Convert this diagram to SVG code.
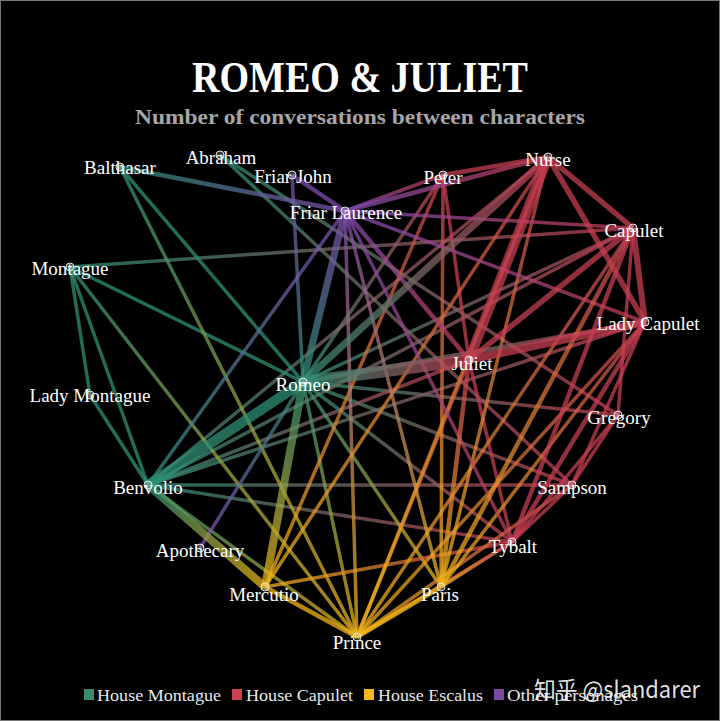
<svg xmlns="http://www.w3.org/2000/svg" width="720" height="721" viewBox="0 0 720 721">
<style>
.e{stroke-opacity:.75;fill:none}
.lbl{font-family:"Liberation Serif","DejaVu Serif",serif;font-size:19px;fill:#fff;text-anchor:middle}
.nd{fill:#fff;fill-opacity:.2;stroke:#e8e8e8;stroke-width:1}
.leg{font-family:"Liberation Serif","DejaVu Serif",serif;font-size:17px;fill:#e8e8e8}
</style>
<defs>
<linearGradient id="MC"><stop offset="0" stop-color="#2f8f74"/><stop offset="1" stop-color="#c43d52"/></linearGradient>
<linearGradient id="ME"><stop offset="0" stop-color="#2f8f74"/><stop offset="1" stop-color="#f0b418"/></linearGradient>
<linearGradient id="MO"><stop offset="0" stop-color="#2f8f74"/><stop offset="1" stop-color="#7e4cb0"/></linearGradient>
<linearGradient id="CE"><stop offset="0" stop-color="#c43d52"/><stop offset="1" stop-color="#f0b418"/></linearGradient>
<linearGradient id="CO"><stop offset="0" stop-color="#c43d52"/><stop offset="1" stop-color="#7e4cb0"/></linearGradient>
<linearGradient id="EO"><stop offset="0" stop-color="#f0b418"/><stop offset="1" stop-color="#7e4cb0"/></linearGradient>
<linearGradient id="e1" href="#MC" gradientUnits="userSpaceOnUse" x1="303" y1="382" x2="469" y2="360"/>
<linearGradient id="e2" href="#MC" gradientUnits="userSpaceOnUse" x1="303" y1="382" x2="548" y2="157"/>
<linearGradient id="e3" href="#MC" gradientUnits="userSpaceOnUse" x1="303" y1="382" x2="645" y2="322"/>
<linearGradient id="e4" href="#MC" gradientUnits="userSpaceOnUse" x1="303" y1="382" x2="633" y2="228"/>
<linearGradient id="e5" href="#MC" gradientUnits="userSpaceOnUse" x1="303" y1="382" x2="512" y2="542"/>
<linearGradient id="e6" href="#MC" gradientUnits="userSpaceOnUse" x1="303" y1="382" x2="443" y2="175"/>
<linearGradient id="e7" href="#MC" gradientUnits="userSpaceOnUse" x1="303" y1="382" x2="572" y2="485"/>
<linearGradient id="e8" href="#MC" gradientUnits="userSpaceOnUse" x1="303" y1="382" x2="618" y2="415"/>
<linearGradient id="e9" href="#MC" gradientUnits="userSpaceOnUse" x1="220" y1="155" x2="572" y2="485"/>
<linearGradient id="e10" href="#MC" gradientUnits="userSpaceOnUse" x1="220" y1="155" x2="618" y2="415"/>
<linearGradient id="e11" href="#MC" gradientUnits="userSpaceOnUse" x1="70" y1="267" x2="633" y2="228"/>
<linearGradient id="e12" href="#MC" gradientUnits="userSpaceOnUse" x1="148" y1="485" x2="512" y2="542"/>
<linearGradient id="e13" href="#MC" gradientUnits="userSpaceOnUse" x1="148" y1="485" x2="572" y2="485"/>
<linearGradient id="e14" href="#MC" gradientUnits="userSpaceOnUse" x1="148" y1="485" x2="633" y2="228"/>
<linearGradient id="e15" href="#MC" gradientUnits="userSpaceOnUse" x1="148" y1="485" x2="645" y2="322"/>
<linearGradient id="e16" href="#MC" gradientUnits="userSpaceOnUse" x1="148" y1="485" x2="548" y2="157"/>
<linearGradient id="e17" href="#MC" gradientUnits="userSpaceOnUse" x1="148" y1="485" x2="469" y2="360"/>
<linearGradient id="e18" href="#ME" gradientUnits="userSpaceOnUse" x1="303" y1="382" x2="265" y2="587"/>
<linearGradient id="e19" href="#ME" gradientUnits="userSpaceOnUse" x1="148" y1="485" x2="265" y2="587"/>
<linearGradient id="e20" href="#ME" gradientUnits="userSpaceOnUse" x1="303" y1="382" x2="441" y2="587"/>
<linearGradient id="e21" href="#ME" gradientUnits="userSpaceOnUse" x1="303" y1="382" x2="357" y2="637"/>
<linearGradient id="e22" href="#ME" gradientUnits="userSpaceOnUse" x1="120" y1="167" x2="357" y2="637"/>
<linearGradient id="e23" href="#ME" gradientUnits="userSpaceOnUse" x1="70" y1="267" x2="357" y2="637"/>
<linearGradient id="e24" href="#ME" gradientUnits="userSpaceOnUse" x1="148" y1="485" x2="357" y2="637"/>
<linearGradient id="e25" href="#MO" gradientUnits="userSpaceOnUse" x1="303" y1="382" x2="345" y2="211"/>
<linearGradient id="e26" href="#MO" gradientUnits="userSpaceOnUse" x1="120" y1="167" x2="345" y2="211"/>
<linearGradient id="e27" href="#MO" gradientUnits="userSpaceOnUse" x1="303" y1="382" x2="200" y2="548"/>
<linearGradient id="e28" href="#MO" gradientUnits="userSpaceOnUse" x1="303" y1="382" x2="292" y2="175"/>
<linearGradient id="e29" href="#MO" gradientUnits="userSpaceOnUse" x1="148" y1="485" x2="345" y2="211"/>
<linearGradient id="e30" href="#CE" gradientUnits="userSpaceOnUse" x1="512" y1="542" x2="265" y2="587"/>
<linearGradient id="e31" href="#CE" gradientUnits="userSpaceOnUse" x1="548" y1="157" x2="265" y2="587"/>
<linearGradient id="e32" href="#CE" gradientUnits="userSpaceOnUse" x1="443" y1="175" x2="265" y2="587"/>
<linearGradient id="e33" href="#CE" gradientUnits="userSpaceOnUse" x1="633" y1="228" x2="357" y2="637"/>
<linearGradient id="e34" href="#CE" gradientUnits="userSpaceOnUse" x1="645" y1="322" x2="357" y2="637"/>
<linearGradient id="e35" href="#CE" gradientUnits="userSpaceOnUse" x1="469" y1="360" x2="357" y2="637"/>
<linearGradient id="e36" href="#CE" gradientUnits="userSpaceOnUse" x1="512" y1="542" x2="357" y2="637"/>
<linearGradient id="e37" href="#CE" gradientUnits="userSpaceOnUse" x1="572" y1="485" x2="357" y2="637"/>
<linearGradient id="e38" href="#CE" gradientUnits="userSpaceOnUse" x1="633" y1="228" x2="441" y2="587"/>
<linearGradient id="e39" href="#CE" gradientUnits="userSpaceOnUse" x1="469" y1="360" x2="441" y2="587"/>
<linearGradient id="e40" href="#CE" gradientUnits="userSpaceOnUse" x1="645" y1="322" x2="441" y2="587"/>
<linearGradient id="e41" href="#CE" gradientUnits="userSpaceOnUse" x1="548" y1="157" x2="441" y2="587"/>
<linearGradient id="e42" href="#CE" gradientUnits="userSpaceOnUse" x1="512" y1="542" x2="441" y2="587"/>
<linearGradient id="e43" href="#CE" gradientUnits="userSpaceOnUse" x1="548" y1="157" x2="357" y2="637"/>
<linearGradient id="e44" href="#CE" gradientUnits="userSpaceOnUse" x1="443" y1="175" x2="441" y2="587"/>
<linearGradient id="e45" href="#CO" gradientUnits="userSpaceOnUse" x1="469" y1="360" x2="345" y2="211"/>
<linearGradient id="e46" href="#CO" gradientUnits="userSpaceOnUse" x1="548" y1="157" x2="345" y2="211"/>
<linearGradient id="e47" href="#CO" gradientUnits="userSpaceOnUse" x1="512" y1="542" x2="345" y2="211"/>
<linearGradient id="e48" href="#CO" gradientUnits="userSpaceOnUse" x1="443" y1="175" x2="345" y2="211"/>
<linearGradient id="e49" href="#CO" gradientUnits="userSpaceOnUse" x1="633" y1="228" x2="345" y2="211"/>
<linearGradient id="e50" href="#CO" gradientUnits="userSpaceOnUse" x1="645" y1="322" x2="345" y2="211"/>
<linearGradient id="e51" href="#EO" gradientUnits="userSpaceOnUse" x1="357" y1="637" x2="345" y2="211"/>
<linearGradient id="e52" href="#EO" gradientUnits="userSpaceOnUse" x1="441" y1="587" x2="345" y2="211"/>
</defs>
<rect x="0.5" y="0.5" width="719" height="720" fill="#000" stroke="#777" stroke-width="1"/>
<text x="360" y="92" font-family="Liberation Serif, DejaVu Serif, serif" font-size="44" font-weight="bold" fill="#fff" text-anchor="middle" textLength="336" lengthAdjust="spacingAndGlyphs">ROMEO &amp; JULIET</text>
<text x="360" y="124" font-family="Liberation Serif, DejaVu Serif, serif" font-size="20" font-weight="bold" fill="#a6a6a6" text-anchor="middle" textLength="450" lengthAdjust="spacingAndGlyphs">Number of conversations between characters</text>
<g id="connectors" class="e">
<line x1="303" y1="382" x2="443" y2="175" stroke="url(#e6)" stroke-width="3.5"/>
<line x1="303" y1="382" x2="572" y2="485" stroke="url(#e7)" stroke-width="3.5"/>
<line x1="303" y1="382" x2="618" y2="415" stroke="url(#e8)" stroke-width="3.5"/>
<line x1="220" y1="155" x2="572" y2="485" stroke="url(#e9)" stroke-width="3.5"/>
<line x1="220" y1="155" x2="618" y2="415" stroke="url(#e10)" stroke-width="3.5"/>
<line x1="70" y1="267" x2="633" y2="228" stroke="url(#e11)" stroke-width="3.5"/>
<line x1="148" y1="485" x2="512" y2="542" stroke="url(#e12)" stroke-width="3.5"/>
<line x1="148" y1="485" x2="572" y2="485" stroke="url(#e13)" stroke-width="3.5"/>
<line x1="148" y1="485" x2="633" y2="228" stroke="url(#e14)" stroke-width="3.5"/>
<line x1="148" y1="485" x2="645" y2="322" stroke="url(#e15)" stroke-width="3.5"/>
<line x1="148" y1="485" x2="548" y2="157" stroke="url(#e16)" stroke-width="3.5"/>
<line x1="148" y1="485" x2="469" y2="360" stroke="url(#e17)" stroke-width="3.5"/>
<line x1="303" y1="382" x2="633" y2="228" stroke="url(#e4)" stroke-width="3.5"/>
<line x1="303" y1="382" x2="512" y2="542" stroke="url(#e5)" stroke-width="3.5"/>
<line x1="303" y1="382" x2="120" y2="167" stroke="#2f8f74" stroke-width="3.5"/>
<line x1="303" y1="382" x2="70" y2="267" stroke="#2f8f74" stroke-width="3.5"/>
<line x1="70" y1="267" x2="90" y2="395" stroke="#2f8f74" stroke-width="3.5"/>
<line x1="70" y1="267" x2="148" y2="485" stroke="#2f8f74" stroke-width="3.5"/>
<line x1="90" y1="395" x2="148" y2="485" stroke="#2f8f74" stroke-width="3.5"/>
<line x1="303" y1="382" x2="441" y2="587" stroke="url(#e20)" stroke-width="3.5"/>
<line x1="303" y1="382" x2="357" y2="637" stroke="url(#e21)" stroke-width="3.5"/>
<line x1="120" y1="167" x2="357" y2="637" stroke="url(#e22)" stroke-width="3.5"/>
<line x1="70" y1="267" x2="357" y2="637" stroke="url(#e23)" stroke-width="3.5"/>
<line x1="148" y1="485" x2="357" y2="637" stroke="url(#e24)" stroke-width="3.5"/>
<line x1="303" y1="382" x2="200" y2="548" stroke="url(#e27)" stroke-width="3.5"/>
<line x1="303" y1="382" x2="292" y2="175" stroke="url(#e28)" stroke-width="3.5"/>
<line x1="148" y1="485" x2="345" y2="211" stroke="url(#e29)" stroke-width="3.5"/>
<line x1="512" y1="542" x2="618" y2="415" stroke="#c43d52" stroke-width="3.5"/>
<line x1="512" y1="542" x2="572" y2="485" stroke="#c43d52" stroke-width="3.5"/>
<line x1="572" y1="485" x2="618" y2="415" stroke="#c43d52" stroke-width="3.5"/>
<line x1="572" y1="485" x2="645" y2="322" stroke="#c43d52" stroke-width="3.5"/>
<line x1="618" y1="415" x2="633" y2="228" stroke="#c43d52" stroke-width="3.5"/>
<line x1="443" y1="175" x2="469" y2="360" stroke="#c43d52" stroke-width="3.5"/>
<line x1="512" y1="542" x2="469" y2="360" stroke="#c43d52" stroke-width="3.5"/>
<line x1="512" y1="542" x2="265" y2="587" stroke="url(#e30)" stroke-width="3.5"/>
<line x1="548" y1="157" x2="265" y2="587" stroke="url(#e31)" stroke-width="3.5"/>
<line x1="443" y1="175" x2="265" y2="587" stroke="url(#e32)" stroke-width="3.5"/>
<line x1="633" y1="228" x2="357" y2="637" stroke="url(#e33)" stroke-width="3.5"/>
<line x1="645" y1="322" x2="357" y2="637" stroke="url(#e34)" stroke-width="3.5"/>
<line x1="469" y1="360" x2="357" y2="637" stroke="url(#e35)" stroke-width="3.5"/>
<line x1="512" y1="542" x2="357" y2="637" stroke="url(#e36)" stroke-width="3.5"/>
<line x1="572" y1="485" x2="357" y2="637" stroke="url(#e37)" stroke-width="3.5"/>
<line x1="645" y1="322" x2="441" y2="587" stroke="url(#e40)" stroke-width="3.5"/>
<line x1="548" y1="157" x2="441" y2="587" stroke="url(#e41)" stroke-width="3.5"/>
<line x1="512" y1="542" x2="441" y2="587" stroke="url(#e42)" stroke-width="3.5"/>
<line x1="548" y1="157" x2="357" y2="637" stroke="url(#e43)" stroke-width="3.5"/>
<line x1="443" y1="175" x2="441" y2="587" stroke="url(#e44)" stroke-width="3.5"/>
<line x1="512" y1="542" x2="345" y2="211" stroke="url(#e47)" stroke-width="3.5"/>
<line x1="443" y1="175" x2="345" y2="211" stroke="url(#e48)" stroke-width="3.5"/>
<line x1="633" y1="228" x2="345" y2="211" stroke="url(#e49)" stroke-width="3.5"/>
<line x1="645" y1="322" x2="345" y2="211" stroke="url(#e50)" stroke-width="3.5"/>
<line x1="357" y1="637" x2="345" y2="211" stroke="url(#e51)" stroke-width="3.5"/>
<line x1="441" y1="587" x2="345" y2="211" stroke="url(#e52)" stroke-width="3.5"/>
<line x1="303" y1="382" x2="645" y2="322" stroke="url(#e3)" stroke-width="4.5"/>
<line x1="120" y1="167" x2="345" y2="211" stroke="url(#e26)" stroke-width="4.5"/>
<line x1="345" y1="211" x2="292" y2="175" stroke="#7e4cb0" stroke-width="4.5"/>
<line x1="443" y1="175" x2="548" y2="157" stroke="#c43d52" stroke-width="4.5"/>
<line x1="512" y1="542" x2="633" y2="228" stroke="#c43d52" stroke-width="4.5"/>
<line x1="512" y1="542" x2="645" y2="322" stroke="#c43d52" stroke-width="4.5"/>
<line x1="633" y1="228" x2="441" y2="587" stroke="url(#e38)" stroke-width="4.5"/>
<line x1="469" y1="360" x2="441" y2="587" stroke="url(#e39)" stroke-width="4.5"/>
<line x1="469" y1="360" x2="345" y2="211" stroke="url(#e45)" stroke-width="4.5"/>
<line x1="548" y1="157" x2="345" y2="211" stroke="url(#e46)" stroke-width="4.5"/>
<line x1="265" y1="587" x2="357" y2="637" stroke="#f0b418" stroke-width="4.5"/>
<line x1="357" y1="637" x2="441" y2="587" stroke="#f0b418" stroke-width="4.5"/>
<line x1="548" y1="157" x2="633" y2="228" stroke="#c43d52" stroke-width="5.5"/>
<line x1="548" y1="157" x2="645" y2="322" stroke="#c43d52" stroke-width="5.5"/>
<line x1="469" y1="360" x2="633" y2="228" stroke="#c43d52" stroke-width="5.5"/>
<line x1="633" y1="228" x2="645" y2="322" stroke="#c43d52" stroke-width="6"/>
<line x1="303" y1="382" x2="345" y2="211" stroke="url(#e25)" stroke-width="7"/>
<line x1="303" y1="382" x2="548" y2="157" stroke="url(#e2)" stroke-width="7"/>
<line x1="303" y1="382" x2="265" y2="587" stroke="url(#e18)" stroke-width="8"/>
<line x1="148" y1="485" x2="265" y2="587" stroke="url(#e19)" stroke-width="8"/>
<line x1="469" y1="360" x2="645" y2="322" stroke="#c43d52" stroke-width="8"/>
<line x1="469" y1="360" x2="548" y2="157" stroke="#c43d52" stroke-width="10"/>
<line x1="303" y1="382" x2="148" y2="485" stroke="#2f8f74" stroke-width="10"/>
<line x1="303" y1="382" x2="469" y2="360" stroke="url(#e1)" stroke-width="12"/>
</g>
<g id="n-balthasar"><circle class="nd" cx="120" cy="167" r="4"/><text class="lbl" x="120" y="174">Balthasar</text></g>
<g id="n-abraham"><circle class="nd" cx="220" cy="155" r="4"/><text class="lbl" x="221" y="164">Abraham</text></g>
<g id="n-friar-john"><circle class="nd" cx="292" cy="175" r="4"/><text class="lbl" x="293" y="183">Friar John</text></g>
<g id="n-friar-laurence"><circle class="nd" cx="345" cy="211" r="4"/><text class="lbl" x="346" y="219">Friar Laurence</text></g>
<g id="n-peter"><circle class="nd" cx="443" cy="175" r="4"/><text class="lbl" x="443" y="184">Peter</text></g>
<g id="n-nurse"><circle class="nd" cx="548" cy="157" r="4"/><text class="lbl" x="548" y="166">Nurse</text></g>
<g id="n-capulet"><circle class="nd" cx="633" cy="228" r="4"/><text class="lbl" x="634" y="237">Capulet</text></g>
<g id="n-montague"><circle class="nd" cx="70" cy="267" r="4"/><text class="lbl" x="70" y="275">Montague</text></g>
<g id="n-lady-capulet"><circle class="nd" cx="645" cy="322" r="4"/><text class="lbl" x="648" y="330">Lady Capulet</text></g>
<g id="n-juliet"><circle class="nd" cx="469" cy="360" r="4"/><text class="lbl" x="472" y="370">Juliet</text></g>
<g id="n-romeo"><circle class="nd" cx="303" cy="382" r="4"/><text class="lbl" x="303" y="391">Romeo</text></g>
<g id="n-lady-montague"><circle class="nd" cx="90" cy="395" r="4"/><text class="lbl" x="90" y="402">Lady Montague</text></g>
<g id="n-gregory"><circle class="nd" cx="618" cy="415" r="4"/><text class="lbl" x="619" y="424">Gregory</text></g>
<g id="n-benvolio"><circle class="nd" cx="148" cy="485" r="4"/><text class="lbl" x="148" y="494">Benvolio</text></g>
<g id="n-sampson"><circle class="nd" cx="572" cy="485" r="4"/><text class="lbl" x="572" y="494">Sampson</text></g>
<g id="n-apothecary"><circle class="nd" cx="200" cy="548" r="4"/><text class="lbl" x="200" y="557">Apothecary</text></g>
<g id="n-tybalt"><circle class="nd" cx="512" cy="542" r="4"/><text class="lbl" x="513" y="553">Tybalt</text></g>
<g id="n-mercutio"><circle class="nd" cx="265" cy="587" r="4"/><text class="lbl" x="264" y="601">Mercutio</text></g>
<g id="n-paris"><circle class="nd" cx="441" cy="587" r="4"/><text class="lbl" x="440" y="601">Paris</text></g>
<g id="n-prince"><circle class="nd" cx="357" cy="637" r="4"/><text class="lbl" x="357" y="649">Prince</text></g>
<g id="legend">
<rect x="84" y="689" width="10" height="11" fill="#3a8a6e"/><text class="leg" x="97" y="701" textLength="124" lengthAdjust="spacingAndGlyphs">House Montague</text>
<rect x="232" y="689" width="10" height="11" fill="#c8434f"/><text class="leg" x="246" y="701" textLength="107" lengthAdjust="spacingAndGlyphs">House Capulet</text>
<rect x="364" y="689" width="10" height="11" fill="#f2b71a"/><text class="leg" x="378" y="701" textLength="105" lengthAdjust="spacingAndGlyphs">House Escalus</text>
<rect x="494" y="689" width="10" height="11" fill="#7a4aa0"/><text class="leg" x="507" y="701" textLength="131" lengthAdjust="spacingAndGlyphs">Other personages</text>
</g>
<text x="534" y="698" font-family="Noto Sans CJK SC, Noto Sans, sans-serif" font-size="23" fill="#fff" fill-opacity="0.9" textLength="166" lengthAdjust="spacingAndGlyphs">知乎 @slandarer</text>
</svg>
